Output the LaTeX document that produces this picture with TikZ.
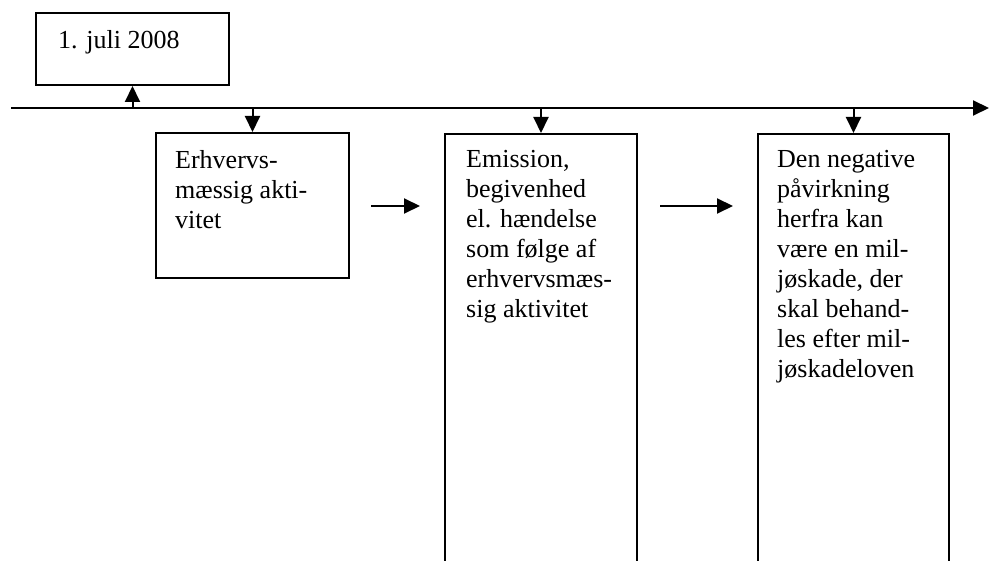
\documentclass[tikz,border=0pt]{standalone}
\usepackage{fontspec}
\setmainfont{Liberation Serif}
\usetikzlibrary{arrows.meta}
\begin{document}
\begin{tikzpicture}[x=1pt,y=-1pt,
  box/.style={draw,line width=2pt,inner sep=0pt,minimum width=193pt,anchor=north west},
  txt/.style={anchor=north west,inner sep=0pt,align=left,font=\fontsize{26pt}{30pt}\selectfont},
  arr/.style={line width=2pt,-{Triangle[length=16pt,width=15pt]}}]
\useasboundingbox (0,0) rectangle (989,561);
% boxes
\node[box,minimum height=72pt] (date) at (35,12) {};
\node[box,minimum height=145pt] (box1) at (155,132) {};
\node[box,minimum width=192pt,minimum height=520pt] (box2) at (444,133) {};
\node[box,minimum width=191pt,minimum height=520pt] (box3) at (757,133) {};
% texts
\node[txt] (t0) at (58,30) {1. juli 2008};
\node[txt] (t1) at (175,150) {Erhvervs-\\mæssig akti-\\vitet};
\node[txt] (t2) at (466,150) {Emission,\\begivenhed\\el. hændelse\\som følge af\\erhvervsmæs-\\sig aktivitet};
\node[txt] (t3) at (777,150) {Den negative\\påvirkning\\herfra kan\\være en mil-\\jøskade, der\\skal behand-\\les efter mil-\\jøskadeloven};
% timeline
\coordinate (tl0) at (11,108);
\coordinate (tl1) at (989,108);
\draw[arr] (tl0) -- (tl1);
\draw[arr] (date.south |- tl0) -- (date.south);
\draw[arr] (box1.north |- tl0) -- (box1.north);
\draw[arr] (box2.north |- tl0) -- (box2.north);
\draw[arr] (box3.north |- tl0) -- (box3.north);
% horizontal arrows
\coordinate (h1a) at (371,206);
\coordinate (h1b) at (420,206);
\coordinate (h2a) at (660,206);
\coordinate (h2b) at (733,206);
\draw[arr] (h1a) -- (h1b);
\draw[arr] (h2a) -- (h2b);
\end{tikzpicture}
\end{document}
